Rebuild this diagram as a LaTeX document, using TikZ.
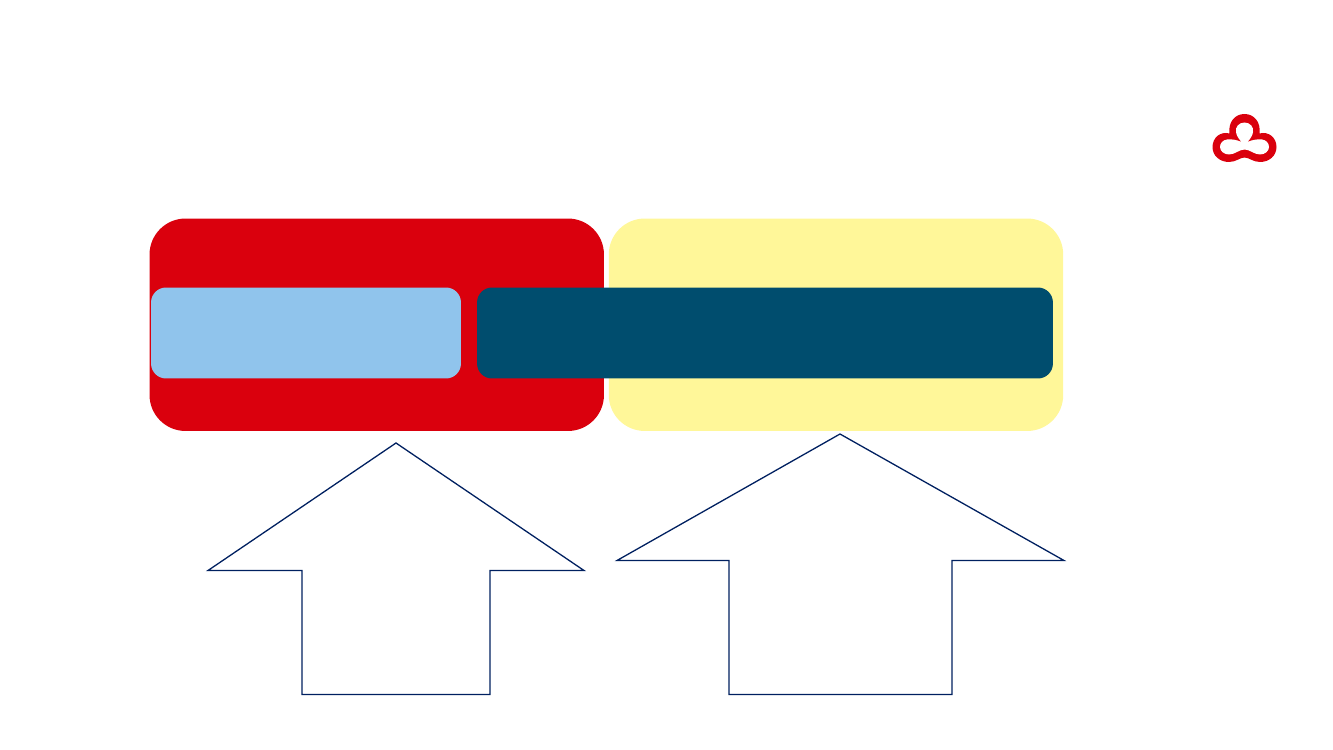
\documentclass[tikz,border=0pt]{standalone}
\definecolor{bankred}{HTML}{DA000D}
\definecolor{paleyellow}{HTML}{FFF799}
\definecolor{skyblue}{HTML}{90C4EC}
\definecolor{deepblue}{HTML}{004D6E}
\definecolor{navyline}{HTML}{002060}
\begin{document}
\begin{tikzpicture}[
        x=0.02cm,
        y=-0.02cm
    ]
    \tikzset{
        bigbox/.style = {rectangle, rounded corners=0.72cm, inner sep=0pt, minimum width=9.09cm, minimum height=4.25cm},
        barbox/.style = {rectangle, rounded corners=0.3cm, inner sep=0pt, minimum height=1.82cm},
        uparrow/.style = {draw=navyline, line width=0.026cm, line join=miter},
    }
    \useasboundingbox (0,0) rectangle (1333,750);
    \node[bigbox,fill=bankred] (redbox) at (376.75,324.75) {};
    \node[bigbox,fill=paleyellow] (yellowbox) at (836,324.75) {};
    \node[barbox,fill=skyblue,minimum width=6.2cm] (lightbar) at (306,333) {};
    \node[barbox,fill=deepblue,minimum width=11.52cm] (darkbar) at (765,333) {};
    % outlined arrows
    \draw[uparrow] (396,443) -- (584,570.5) -- (490,570.5) -- (490,694.5) -- (302,694.5) -- (302,570.5) -- (208,570.5) -- cycle;
    \draw[uparrow] (840,434) -- (1064,560.5) -- (952,560.5) -- (952,694.5) -- (729,694.5) -- (729,560.5) -- (617,560.5) -- cycle;
    % logo
    \fill[bankred]
        (1244.5,114) .. controls (1254,114) and (1261,122) .. (1259.5,133.5)
        .. controls (1269,131) and (1276.5,138) .. (1276.5,147)
        .. controls (1276.5,156) and (1269,162) .. (1260,162)
        .. controls (1253,162) and (1249,157.5) .. (1244.5,157.5)
        .. controls (1240,157.5) and (1236,162) .. (1229,162)
        .. controls (1220,162) and (1212.5,156) .. (1212.5,147)
        .. controls (1212.5,138) and (1220,131) .. (1229.5,133.5)
        .. controls (1228,122) and (1235,114) .. (1244.5,114) -- cycle;
    \fill[white]
        (1244.5,122.5) .. controls (1250,122.5) and (1254,127) .. (1253,132)
        .. controls (1252.5,136) and (1250,139) .. (1247.5,142)
        .. controls (1253,139.5) and (1258,139) .. (1262,139.5)
        .. controls (1266,140) and (1269,143) .. (1269,147)
        .. controls (1269,151) and (1265,154.5) .. (1260,154.5)
        .. controls (1254,154.5) and (1250,149.5) .. (1244.5,149.5)
        .. controls (1239,149.5) and (1235,154.5) .. (1229,154.5)
        .. controls (1224,154.5) and (1220,151) .. (1220,147)
        .. controls (1220,143) and (1223,140) .. (1227,139.5)
        .. controls (1231,139) and (1236,139.5) .. (1241.5,142)
        .. controls (1239,139) and (1236.5,136) .. (1236,132)
        .. controls (1235,127) and (1239,122.5) .. (1244.5,122.5) -- cycle;
\end{tikzpicture}
\end{document}
